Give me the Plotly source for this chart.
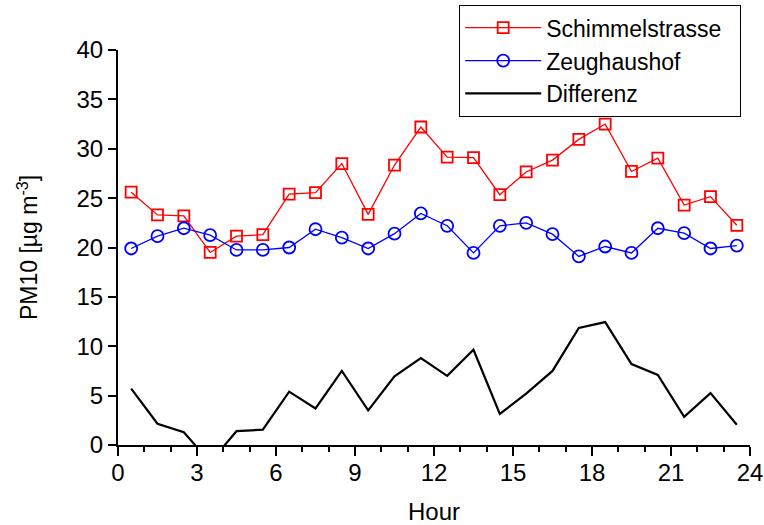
import plotly.graph_objects as go

hours = [0.5, 1.5, 2.5, 3.5, 4.5, 5.5, 6.5, 7.5, 8.5, 9.5, 10.5, 11.5,
         12.5, 13.5, 14.5, 15.5, 16.5, 17.5, 18.5, 19.5, 20.5, 21.5, 22.5, 23.5]
schimmelstrasse = [25.6, 23.3, 23.2, 19.5, 21.15, 21.3, 25.4, 25.55, 28.5, 23.35, 28.35, 32.2,
                   29.15, 29.1, 25.35, 27.65, 28.85, 30.95, 32.5, 27.7, 29.05, 24.3, 25.15, 22.25]
zeughaushof = [19.9, 21.15, 21.95, 21.25, 19.75, 19.75, 20.0, 21.85, 21.0, 19.9, 21.4, 23.45,
               22.2, 19.45, 22.2, 22.5, 21.35, 19.1, 20.1, 19.45, 21.95, 21.45, 19.9, 20.2]
differenz = [5.7, 2.15, 1.3, -1.75, 1.4, 1.55, 5.4, 3.7, 7.5, 3.5, 6.95, 8.8,
             7.0, 9.65, 3.15, 5.2, 7.5, 11.85, 12.45, 8.2, 7.1, 2.85, 5.25, 2.05]

x_ticks = [0, 3, 6, 9, 12, 15, 18, 21, 24]
y_ticks = [0, 5, 10, 15, 20, 25, 30, 35, 40]

FONT = "Arial, Liberation Sans, sans-serif"

fig = go.Figure()
fig.add_trace(go.Scatter(
    x=hours, y=schimmelstrasse, name="Schimmelstrasse\u00a0\u00a0", mode="lines+markers",
    line=dict(color="#ff0000", width=1.3),
    marker=dict(symbol="square-open", size=11, color="#ff0000", line=dict(width=1.8)),
    cliponaxis=False,
))
fig.add_trace(go.Scatter(
    x=hours, y=zeughaushof, name="Zeughaushof", mode="lines+markers",
    line=dict(color="#0000ff", width=1.3),
    marker=dict(symbol="circle-open", size=12, color="#0000ff", line=dict(width=1.8)),
    cliponaxis=False,
))
fig.add_trace(go.Scatter(
    x=hours, y=differenz, name="Differenz", mode="lines",
    line=dict(color="#000000", width=2.2),
))

fig.update_layout(
    width=764, height=525,
    margin=dict(l=118, r=14, t=50, b=80, autoexpand=False),
    paper_bgcolor="white", plot_bgcolor="white",
    font=dict(family=FONT, size=23, color="black"),
    showlegend=True,
    legend=dict(
        xref="container", yref="container",
        x=459 / 764, y=1 - 5 / 525, xanchor="left", yanchor="top",
        bordercolor="black", borderwidth=1.2, bgcolor="white",
        font=dict(size=23), itemwidth=76, tracegroupgap=0,
    ),
    xaxis=dict(
        range=[0, 24], tickvals=x_ticks, ticktext=[str(v) for v in x_ticks],
        ticks="outside", ticklen=9, tickwidth=2, tickcolor="black",
        minor=dict(dtick=1, ticks="outside", ticklen=5, tickwidth=2, tickcolor="black"),
        showline=True, linecolor="black", linewidth=2.2,
        showgrid=False, zeroline=False, automargin=False,
        tickfont=dict(size=24), ticklabelstandoff=-4,
        title=dict(text="Hour", font=dict(size=24), standoff=19),
    ),
    yaxis=dict(
        range=[0, 40], tickvals=y_ticks, ticktext=[str(v) for v in y_ticks],
        ticks="outside", ticklen=8, tickwidth=2, tickcolor="black",
        showline=True, linecolor="black", linewidth=2,
        showgrid=False, zeroline=False, automargin=False,
        tickfont=dict(size=24),
        title=dict(text="PM10 [µg m<sup>-3</sup>]", font=dict(size=23), standoff=32),
    ),
)

fig.write_html(
    "out.html",
    config={"displayModeBar": False},
    post_script="document.body.style.margin='0';document.body.style.overflow='hidden';",
)
